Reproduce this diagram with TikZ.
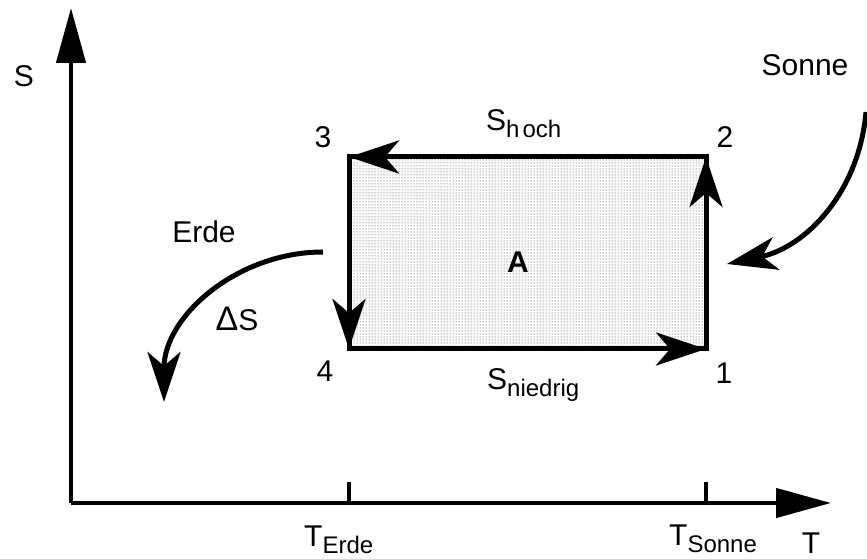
\documentclass[tikz,border=0pt]{standalone}
\usepackage{fontspec}
\setmainfont{Liberation Sans}
\usetikzlibrary{arrows.meta,patterns}
% lowered index in the same sans face
\newcommand{\tsub}[1]{\raisebox{-7pt}{\fontsize{24}{24}\selectfont #1}}

\begin{document}
\begin{tikzpicture}[x=1pt,y=1pt,
  lbl/.style={font=\fontsize{30}{32}\selectfont,inner sep=0pt},
  axis/.style={line width=4.5pt,-{Triangle[length=55pt,width=29pt]}},
  flow/.style={line width=5pt,-{Stealth[length=50pt,width=33pt,inset=14pt]}}]
\useasboundingbox (0,0) rectangle (867,559);
% axes
\coordinate (O) at (71,56);
\coordinate (Stop) at (71,551);
\coordinate (Tend) at (831,56);
\draw[axis] (O) -- (Stop);
\draw[axis] (O) -- (Tend);
\foreach \x in {349,706} \draw[line width=4pt] (\x,56) -- (\x,77);
\node[lbl] (S) at (24,483) {S};
\node[lbl,anchor=base] (T) at (811,5) {T};
\node[lbl,anchor=base west] (Terde) at (304,12) {T\tsub{Erde}};
\node[lbl,anchor=base west] (Tsonne) at (669,13) {T\tsub{Sonne}};
% cycle 1-2-3-4
\coordinate (p1) at (706,210);
\coordinate (p2) at (706,402);
\coordinate (p3) at (349,402);
\coordinate (p4) at (349,210);
\draw[line width=5pt,pattern=dots,pattern color=black!85] (p4) rectangle (p2);
\draw[flow] (p2) -- (p3);
\draw[flow] (p3) -- (p4);
\draw[flow] (p4) -- (p1);
\draw[flow] (p1) -- (p2);
\node[lbl] (n1) at (724,186) {1};
\node[lbl] (n2) at (725,422) {2};
\node[lbl] (n3) at (323,422) {3};
\node[lbl] (n4) at (325,188) {4};
\node[lbl,font=\fontsize{30}{32}\selectfont\bfseries] (A) at (518,297) {A};
\node[lbl,anchor=base west] (Shoch) at (486,428) {S\tsub{h\kern3pt och}};
\node[lbl,anchor=base west] (Sniedrig) at (487,169) {S\tsub{niedrig}};
% heat flows
\coordinate (sun0) at (866,447);
\coordinate (sun1) at (727,295);
\draw[flow] (sun0) to[out=-95,in=12] (sun1);
\node[lbl] (sonne) at (805,494) {Sonne};
\coordinate (earth0) at (323,307);
\coordinate (earth1) at (164,157);
\draw[flow] (earth0) to[out=180,in=90] (earth1);
\node[lbl] (erde) at (204,327) {Erde};
\node[lbl] (dS) at (237,240) {{\fontsize{34}{34}\selectfont Δ}S};
\end{tikzpicture}
\end{document}
